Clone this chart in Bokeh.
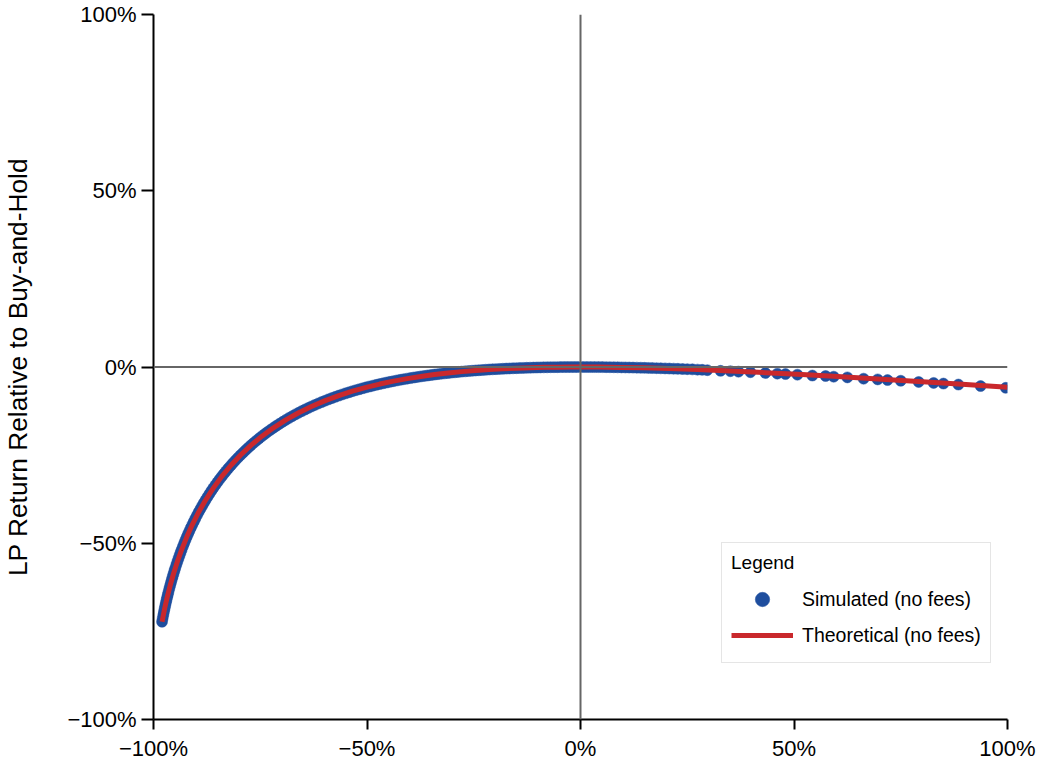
from bokeh.plotting import figure
from bokeh.models import Range1d, FixedTicker, Span, Legend, LegendItem, ColumnDataSource
from bokeh.embed import file_html
from bokeh.resources import INLINE

# Price change (%) and LP return relative to buy-and-hold (%), simulated points
sim_x = [-98.0, -97.85, -97.7, -97.55, -97.4, -97.25, -97.1, -96.95, -96.8, -96.65,
         -96.5, -96.3, -96.1, -95.9, -95.7, -95.5, -95.3, -95.1, -94.9, -94.65,
         -94.4, -94.15, -93.9, -93.65, -93.4, -93.1, -92.8, -92.5, -92.2, -91.9,
         -91.6, -91.25, -90.9, -90.55, -90.2, -89.8, -89.4, -89.0, -88.6, -88.2,
         -87.8, -87.35, -86.9, -86.45, -86.0, -85.5, -85.0, -84.5, -84.0, -83.5,
         -83.0, -82.45, -81.9, -81.35, -80.8, -80.2, -79.6, -79.0, -78.4, -77.8,
         -77.2, -76.55, -75.9, -75.25, -74.6, -73.95, -73.3, -72.6, -71.9, -71.2,
         -70.5, -69.75, -69.0, -68.25, -67.5, -66.75, -66.0, -65.25, -64.5, -63.75,
         -63.0, -62.2, -61.4, -60.6, -59.8, -59.0, -58.2, -57.4, -56.6, -55.8,
         -55.0, -54.2, -53.4, -52.6, -51.8, -51.0, -50.2, -49.4, -48.6, -47.8,
         -47.0, -46.2, -45.4, -44.6, -43.8, -43.0, -42.2, -41.4, -40.6, -39.8,
         -39.0, -38.2, -37.4, -36.6, -35.8, -35.0, -34.2, -33.4, -32.6, -31.8,
         -31.0, -30.2, -29.4, -28.6, -27.8, -27.0, -26.2, -25.4, -24.6, -23.8,
         -23.0, -22.2, -21.4, -20.6, -19.8, -19.0, -18.2, -17.4, -16.6, -15.8,
         -15.0, -14.2, -13.4, -12.6, -11.8, -11.0, -10.2, -9.4, -8.6, -7.8,
         -7.0, -6.2, -5.4, -4.6, -3.8, -3.0, -2.2, -1.4, -0.6, 0.6,
         1.5, 2.4, 3.3, 4.2, 5.1, 6.0, 6.9, 7.8, 8.7, 9.6,
         10.5, 11.4, 12.3, 13.2, 14.1, 15.0, 15.9, 16.8, 17.8, 18.8,
         19.8, 20.8, 21.8, 22.8, 23.9, 25.0, 26.2, 27.4, 28.5, 29.7,
         32.8, 35.1, 37.0, 39.8, 43.3, 46.1, 48.0, 50.8, 54.3, 57.4,
         59.3, 62.5, 66.3, 69.6, 71.9, 75.0, 79.2, 82.7, 85.0, 88.5,
         93.7, 99.6]
sim_y = [-72.27, -71.29, -70.35, -69.44, -68.57, -67.72, -66.90, -66.11, -65.33, -64.58,
         -63.85, -62.90, -61.99, -61.10, -60.24, -59.40, -58.59, -57.80, -57.03, -56.09,
         -55.18, -54.30, -53.44, -52.61, -51.80, -50.86, -49.94, -49.05, -48.18, -47.34,
         -46.53, -45.60, -44.70, -43.83, -42.98, -42.04, -41.13, -40.24, -39.38, -38.55,
         -37.74, -36.85, -36.00, -35.16, -34.36, -33.49, -32.64, -31.83, -31.03, -30.27,
         -29.52, -28.72, -27.95, -27.20, -26.48, -25.71, -24.97, -24.26, -23.56, -22.89,
         -22.23, -21.55, -20.88, -20.24, -19.62, -19.02, -18.43, -17.83, -17.24, -16.67,
         -16.12, -15.55, -15.00, -14.46, -13.95, -13.45, -12.97, -12.51, -12.06, -11.62,
         -11.20, -10.77, -10.35, -9.94, -9.55, -9.18, -8.81, -8.46, -8.12, -7.79,
         -7.47, -7.17, -6.87, -6.58, -6.31, -6.04, -5.78, -5.53, -5.29, -5.06,
         -4.84, -4.62, -4.41, -4.21, -4.01, -3.82, -3.64, -3.47, -3.30, -3.14,
         -2.98, -2.83, -2.68, -2.54, -2.41, -2.28, -2.15, -2.03, -1.91, -1.80,
         -1.70, -1.59, -1.50, -1.40, -1.31, -1.23, -1.14, -1.06, -0.99, -0.92,
         -0.85, -0.78, -0.72, -0.66, -0.61, -0.55, -0.50, -0.46, -0.41, -0.37,
         -0.33, -0.29, -0.26, -0.23, -0.20, -0.17, -0.14, -0.12, -0.10, -0.08,
         -0.06, -0.05, -0.04, -0.03, -0.02, -0.01, -0.01, 0.00, 0.00, 0.00,
         0.00, -0.01, -0.01, -0.02, -0.03, -0.04, -0.06, -0.07, -0.09, -0.11,
         -0.13, -0.15, -0.17, -0.19, -0.21, -0.24, -0.27, -0.30, -0.33, -0.37,
         -0.40, -0.44, -0.48, -0.52, -0.57, -0.62, -0.67, -0.75, -0.80, -0.90,
         -1.08, -1.20, -1.32, -1.48, -1.70, -1.88, -2.00, -2.18, -2.42, -2.55,
         -2.75, -2.95, -3.32, -3.52, -3.70, -3.90, -4.25, -4.52, -4.70, -4.98,
         -5.40, -5.90]

# Theoretical (no fees) curve
theory_x = [-98.0, -97.4, -96.8, -96.1, -95.3, -94.4, -93.4, -92.2, -90.9, -89.4,
            -87.8, -86.0, -84.0, -81.9, -79.6, -77.2, -74.6, -71.9, -69.0, -66.0,
            -63.0, -59.8, -56.6, -53.4, -50.2, -47.0, -43.8, -40.6, -37.4, -34.2,
            -31.0, -27.8, -24.6, -21.4, -18.2, -15.0, -11.8, -8.6, -5.4, -2.2,
            0.0, 4.2, 9.6, 15.0, 20.8, 27.4, 35.1, 43.3, 50.8, 59.3,
            69.6, 79.2, 88.5, 100.0]
theory_y = [-72.27, -68.57, -65.33, -61.99, -58.59, -55.18, -51.80, -48.18, -44.70, -41.13,
            -37.74, -34.36, -31.03, -27.95, -24.97, -22.23, -19.62, -17.24, -15.00, -12.97,
            -11.20, -9.55, -8.12, -6.87, -5.78, -4.84, -4.01, -3.30, -2.68, -2.15,
            -1.70, -1.31, -0.99, -0.72, -0.50, -0.33, -0.20, -0.10, -0.04, -0.01,
            0.00, -0.02, -0.11, -0.24, -0.44, -0.73, -1.12, -1.60, -2.07, -2.65,
            -3.39, -4.11, -4.82, -5.72]

tick_values = [-100, -50, 0, 50, 100]
tick_labels = ["\u2212100%", "\u221250%", "0%", "50%", "100%"]
y_title = "LP Return Relative to Buy-and-Hold"

FONT = "Liberation Sans"
BLUE = "#1f4e9e"
RED = "#c9282c"

p = figure(frame_width=854, frame_height=705, output_backend="svg",
           toolbar_location=None, x_range=Range1d(-100, 100), y_range=Range1d(-100, 100),
           min_border_left=153, min_border_right=29, min_border_top=14, min_border_bottom=10)
p.outline_line_color = None
p.grid.visible = False
p.background_fill_color = "white"
p.border_fill_color = "white"

overrides = {v: l for v, l in zip(tick_values, tick_labels)}
for ax, tick_out, stand in ((p.xaxis[0], 10, 6), (p.yaxis[0], 12, 5)):
    ax.ticker = FixedTicker(ticks=tick_values)
    ax.major_label_overrides = overrides
    ax.minor_tick_line_color = None
    ax.major_tick_in = 0
    ax.major_tick_out = tick_out
    ax.major_tick_line_width = 2
    ax.major_tick_line_color = "black"
    ax.axis_line_width = 2
    ax.axis_line_color = "black"
    ax.major_label_text_font = FONT
    ax.major_label_text_font_size = "22px"
    ax.major_label_text_color = "black"
    ax.major_label_standoff = stand

yax = p.yaxis[0]
yax.axis_label = y_title
yax.axis_label_text_font = FONT
yax.axis_label_text_font_size = "26.3px"
yax.axis_label_text_font_style = "normal"
yax.axis_label_text_color = "black"
yax.axis_label_text_baseline = "bottom"
yax.axis_label_standoff = 31

sim_src = ColumnDataSource(dict(x=sim_x, y=sim_y))
th_src = ColumnDataSource(dict(x=theory_x, y=theory_y))

r_sim = p.scatter("x", "y", source=sim_src, size=11, fill_color=BLUE, line_color=BLUE,
                  line_width=0.5)
r_th = p.line("x", "y", source=th_src, line_color=RED, line_width=5)

p.add_layout(Span(location=0, dimension="width", line_color="#666666", line_width=2))
p.add_layout(Span(location=0, dimension="height", line_color="#666666", line_width=2))

legend = Legend(items=[LegendItem(label="Simulated (no fees)", renderers=[r_sim]),
                       LegendItem(label="Theoretical (no fees)", renderers=[r_th])],
                location=(568, 56), title="Legend")
legend.title_text_font = FONT
legend.title_text_font_size = "19px"
legend.title_text_font_style = "normal"
legend.title_text_color = "black"
legend.title_standoff = 7
legend.label_text_font = FONT
legend.label_text_font_size = "19.5px"
legend.label_text_color = "black"
legend.glyph_width = 62
legend.glyph_height = 36
legend.label_height = 36
legend.label_standoff = 9
legend.spacing = 0
legend.padding = 9
legend.margin = 0
legend.border_line_color = "#cccccc"
legend.border_line_width = 1
legend.background_fill_color = "white"
legend.background_fill_alpha = 1.0
p.add_layout(legend, "center")

open("out.html", "w").write(file_html(p, INLINE))
